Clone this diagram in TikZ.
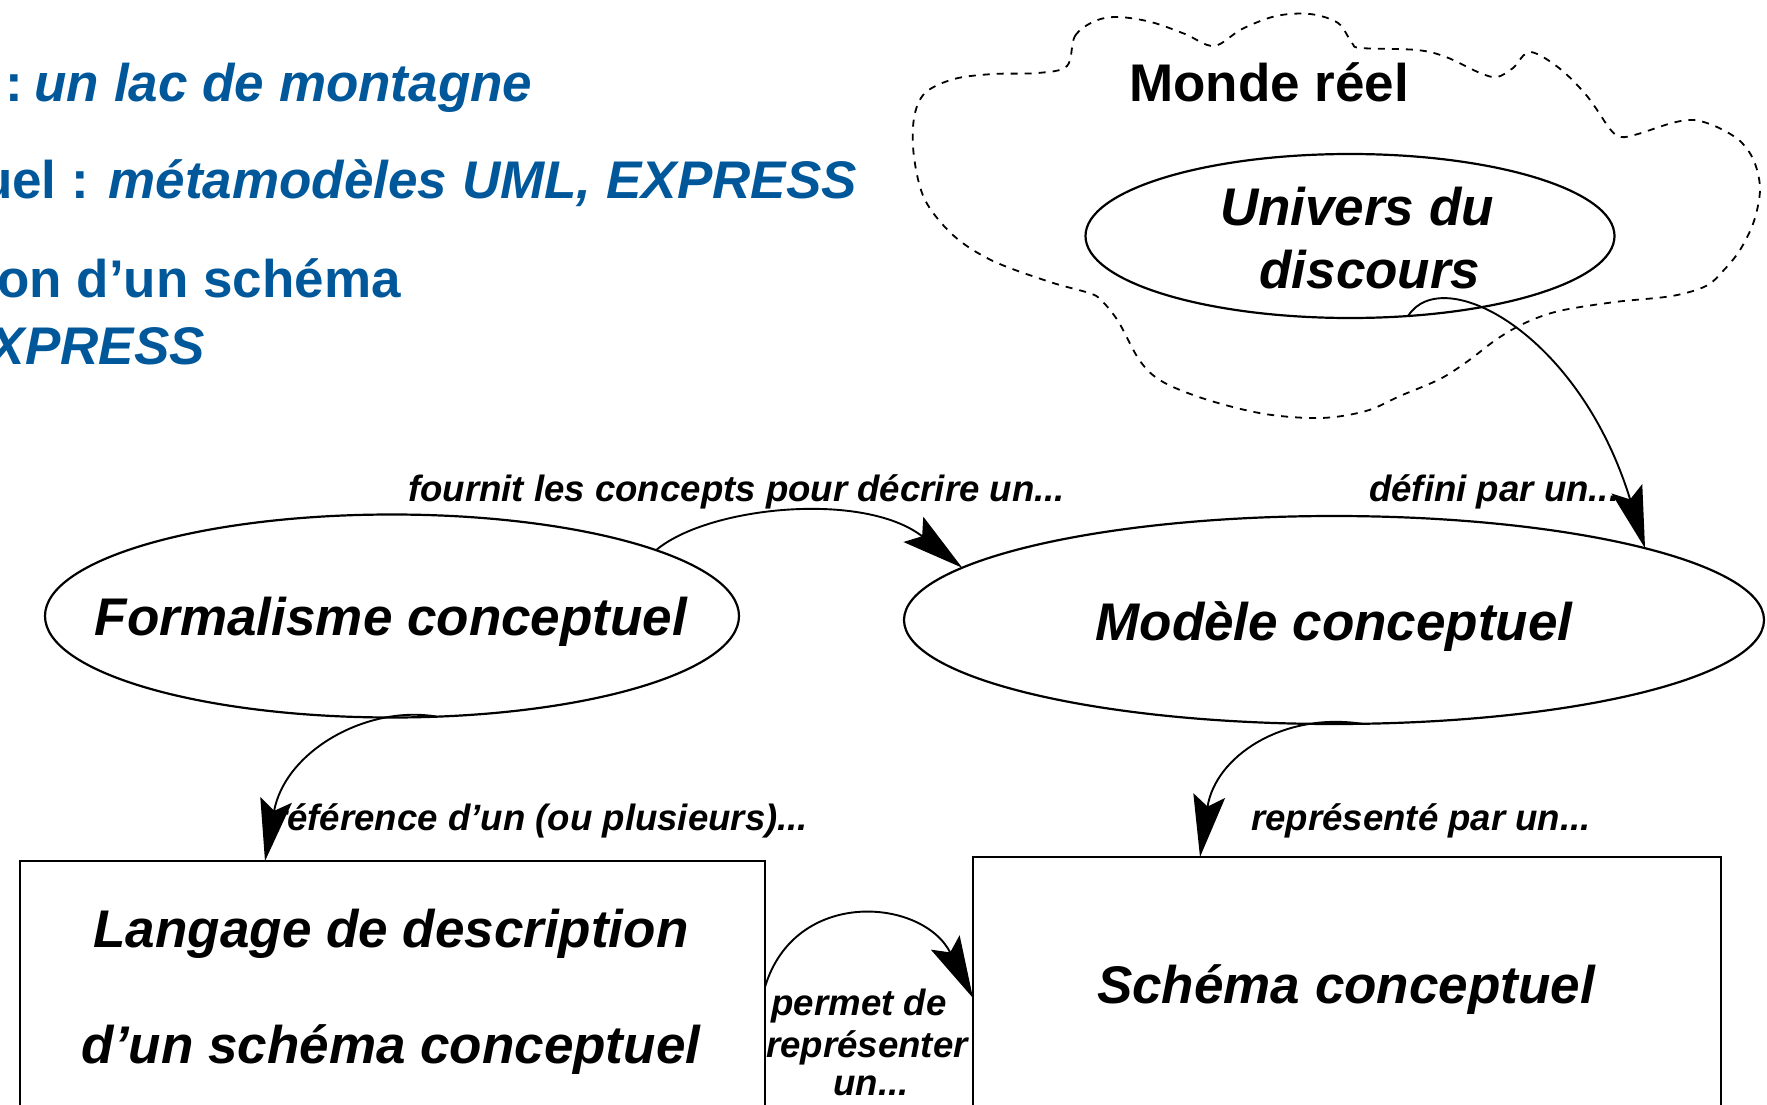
\documentclass[tikz,border=0pt]{standalone}
\usepackage{fontspec}
\setmainfont{Liberation Sans}
\usetikzlibrary{shapes.geometric,arrows.meta}
\definecolor{slideblue}{RGB}{0,88,155}
\begin{document}
\begin{tikzpicture}[x=1pt,y=-1pt,
  bigtxt/.style={font=\fontsize{53}{60}\selectfont\bfseries\itshape, inner sep=0pt, anchor=base},
  lbl/.style={font=\fontsize{36.6}{35}\selectfont\bfseries\itshape, inner sep=0pt},
  bluetxt/.style={font=\fontsize{53}{60}\selectfont\bfseries, text=slideblue, inner sep=0pt},
  oval/.style={ellipse, draw, line width=2.2pt, inner sep=0pt, outer sep=0pt},
  box/.style={rectangle, draw, line width=2.2pt, inner sep=0pt, outer sep=0pt},
  conn/.style={line width=1.9pt, -{Stealth[length=62pt,width=32pt,inset=11pt]}},
  cloudline/.style={line width=1.8pt, dash pattern=on 7pt off 7pt}
]
\useasboundingbox (0,0) rectangle (1767,1105);

% cloud (real world)
\draw[cloudline] plot[smooth cycle, tension=0.55] coordinates {
 (1067,66) (1075,36) (1095,21) (1118,17) (1151,22) (1185,34) (1214,46)
 (1242,29) (1276,16) (1310,14) (1338,23) (1352,43) (1361,48)
 (1417,50) (1446,57) (1480,73) (1497,77) (1513,68) (1530,52)
 (1559,68) (1587,96) (1610,129) (1621,137) (1638,134) (1672,123)
 (1694,120) (1717,127) (1740,141) (1754,161) (1760,189) (1754,221)
 (1740,250) (1723,271) (1706,286) (1672,296) (1615,302) (1559,311)
 (1525,323) (1497,339) (1468,361) (1440,379) (1400,396) (1366,411)
 (1321,418) (1265,414) (1208,400) (1163,382) (1140,361) (1118,321)
 (1101,300) (1089,293) (1050,282) (993,261) (954,236) (925,200)
 (914,157) (914,118) (925,93) (954,79) (993,74) (1038,73)};

\node[font=\fontsize{53}{60}\selectfont\bfseries, inner sep=0pt, anchor=base] (monde) at (1269,102) {Monde réel};

% blue slide text (cut at the left edge)
\node[bluetxt, anchor=base west] (b1) at (5,102) {:\kern-3pt\ {\itshape un lac de montagne}};
\node[bluetxt, anchor=base east] (b2) at (857,198) {uel : {\itshape métamodèles UML, EXPRESS}};
\node[bluetxt, anchor=base east] (b3) at (401,297) {on d’un schéma};
\node[bluetxt, anchor=base east] (b4) at (205,364) {\itshape XPRESS};

% shapes
\node[oval, minimum width=529pt, minimum height=164pt] (U) at (1350,236) {};
\node[oval, minimum width=694pt, minimum height=203pt] (F) at (392,616) {};
\node[oval, minimum width=860pt, minimum height=208pt] (M) at (1334,620) {};
\node[box, minimum width=745pt, minimum height=260pt] (L) at (392.5,991) {};
\node[box, minimum width=748pt, minimum height=254pt] (S) at (1347,984) {};

% texts in shapes
\node[bigtxt] (Ut1) at (1357,225) {Univers du};
\node[bigtxt] (Ut2) at (1370,288) {discours};
\node[bigtxt] (Ft) at (391,635) {Formalisme conceptuel};
\node[bigtxt] (Mt) at (1334,640) {Modèle conceptuel};
\node[bigtxt] (Lt1) at (391,947) {Langage de description};
\node[bigtxt] (Lt2) at (391,1063) {d’un schéma conceptuel};
\node[bigtxt] (St) at (1346,1003) {Schéma conceptuel};

% connector labels
\node[lbl, anchor=base west] (l1) at (408,501) {fournit les concepts pour décrire un...};
\node[lbl, anchor=base west] (l2) at (1369,501) {défini par un...};
\node[lbl, anchor=base west] (l3) at (273,830) {référence d’un (ou plusieurs)...};
\node[lbl, anchor=base west] (l4) at (1251,830) {représenté par un...};
\node[lbl, anchor=base] (l5a) at (859,1015) {permet de};
\node[lbl, anchor=base] (l5b) at (867,1057) {représenter};
\node[lbl, anchor=base] (l5c) at (871,1095) {un...};

% connectors
\draw[conn] (F.14.7) .. controls +(52,-44) and +(-98,-77) .. (M.172.9);
\draw[conn] (U.-54.3) .. controls +(34,-54) and +(-66,-216) .. (M.13.8);
\draw[conn] (F.-66.3) .. controls +(-70,-12) and +(20,-110) .. ([xshift=245pt]L.north west);
\draw[conn] (M.-75.4) .. controls +(-80,-12) and +(15,-100) .. ([xshift=227pt]S.north west);
\draw[conn] ([yshift=-126pt]L.north east) .. controls +(30,-100) and +(-50,-100) .. ([yshift=-141pt]S.north west);
\end{tikzpicture}
\end{document}
